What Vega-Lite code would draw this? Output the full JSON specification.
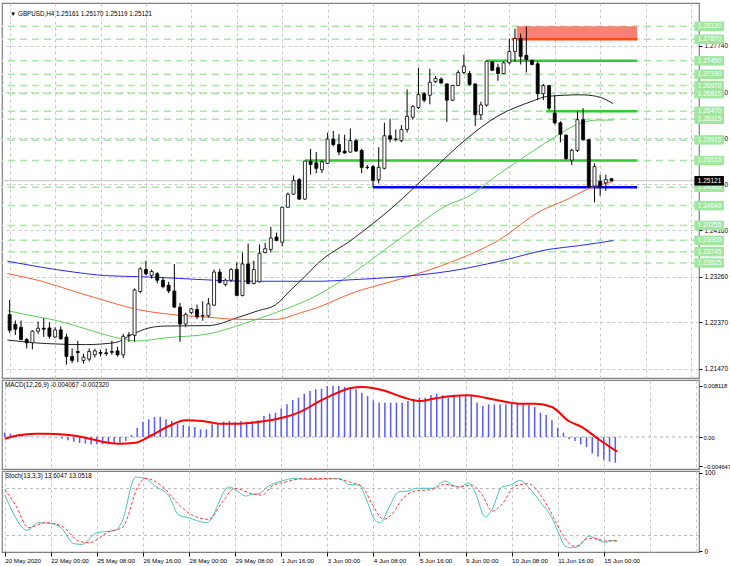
{
  "$schema": "https://vega.github.io/schema/vega-lite/v6.json",
  "background": "white",
  "padding": {"left": 0, "top": 2, "right": 0, "bottom": 0},
  "bounds": "flush",
  "spacing": 2,
  "config": {
    "font": "Liberation Sans",
    "view": {"stroke": "#808080", "strokeWidth": 1.2},
    "axis": {"title": null, "domain": false, "labelFont": "Liberation Sans", "labelFontSize": 6.5, "labelColor": "#000000", "tickColor": "#000000", "tickSize": 3, "labelPadding": 2, "labelOverlap": false, "gridColor": "#c8c8c8", "gridDash": [3, 3], "gridWidth": 1}
  },
  "datasets": {
    "bars": [
      {"i":0,"o":1.22523,"h":1.22806,"l":1.22164,"c":1.22220,"m":0.00069},
      {"i":1,"o":1.22334,"h":1.22409,"l":1.22126,"c":1.22239,"m":0.00053},
      {"i":2,"o":1.22277,"h":1.22409,"l":1.22031,"c":1.22037,"m":0.00032},
      {"i":3,"o":1.22037,"h":1.22069,"l":1.21867,"c":1.21975,"m":0.00016},
      {"i":4,"o":1.21975,"h":1.22220,"l":1.21848,"c":1.22201,"m":0.0001},
      {"i":5,"o":1.22201,"h":1.22390,"l":1.22150,"c":1.22258,"m":0.00005},
      {"i":6,"o":1.22258,"h":1.22453,"l":1.22088,"c":1.22239,"m":0.00003},
      {"i":7,"o":1.22264,"h":1.22371,"l":1.22056,"c":1.22101,"m":0.00001},
      {"i":8,"o":1.22088,"h":1.22277,"l":1.22069,"c":1.22226,"m":0},
      {"i":9,"o":1.22226,"h":1.22296,"l":1.22031,"c":1.22056,"m":-0.00005},
      {"i":10,"o":1.22088,"h":1.22150,"l":1.21553,"c":1.21710,"m":-0.00026},
      {"i":11,"o":1.21710,"h":1.21867,"l":1.21583,"c":1.21634,"m":-0.00053},
      {"i":12,"o":1.21805,"h":1.22012,"l":1.21597,"c":1.21786,"m":-0.00074},
      {"i":13,"o":1.21634,"h":1.21761,"l":1.21572,"c":1.21697,"m":-0.00095},
      {"i":14,"o":1.21659,"h":1.21867,"l":1.21616,"c":1.21805,"m":-0.00105},
      {"i":15,"o":1.21742,"h":1.21861,"l":1.21691,"c":1.21818,"m":-0.00116},
      {"i":16,"o":1.21786,"h":1.21842,"l":1.21710,"c":1.21767,"m":-0.00116},
      {"i":17,"o":1.21780,"h":1.21867,"l":1.21723,"c":1.21767,"m":-0.00116},
      {"i":18,"o":1.21805,"h":1.22012,"l":1.21742,"c":1.21791,"m":-0.00116},
      {"i":19,"o":1.21818,"h":1.21899,"l":1.21710,"c":1.21742,"m":-0.00105},
      {"i":20,"o":1.21742,"h":1.22150,"l":1.21678,"c":1.22101,"m":-0.0009},
      {"i":21,"o":1.22120,"h":1.22183,"l":1.21994,"c":1.22126,"m":-0.00063},
      {"i":22,"o":1.22120,"h":1.23033,"l":1.21994,"c":1.23001,"m":0.00032},
      {"i":23,"o":1.22971,"h":1.23443,"l":1.22939,"c":1.23411,"m":0.00148},
      {"i":24,"o":1.23398,"h":1.23568,"l":1.23284,"c":1.23317,"m":0.00243},
      {"i":25,"o":1.23284,"h":1.23398,"l":1.23222,"c":1.23360,"m":0.0028},
      {"i":26,"o":1.23317,"h":1.23349,"l":1.23128,"c":1.23190,"m":0.00316},
      {"i":27,"o":1.23190,"h":1.23254,"l":1.23033,"c":1.23065,"m":0.00322},
      {"i":28,"o":1.23095,"h":1.23160,"l":1.22939,"c":1.22982,"m":0.0028},
      {"i":29,"o":1.22982,"h":1.23506,"l":1.22655,"c":1.22668,"m":0.00253},
      {"i":30,"o":1.22668,"h":1.22750,"l":1.21994,"c":1.22339,"m":0.00211},
      {"i":31,"o":1.22339,"h":1.22561,"l":1.22277,"c":1.22528,"m":0.0019},
      {"i":32,"o":1.22561,"h":1.22655,"l":1.22528,"c":1.22636,"m":0.00174},
      {"i":33,"o":1.22623,"h":1.22717,"l":1.22434,"c":1.22479,"m":0.00158},
      {"i":34,"o":1.22504,"h":1.22782,"l":1.22404,"c":1.22498,"m":0.00121},
      {"i":35,"o":1.22498,"h":1.22844,"l":1.22466,"c":1.22731,"m":0.00121},
      {"i":36,"o":1.22706,"h":1.23398,"l":1.22687,"c":1.23349,"m":0.002},
      {"i":37,"o":1.23349,"h":1.23411,"l":1.23128,"c":1.23146,"m":0.002},
      {"i":38,"o":1.23109,"h":1.23222,"l":1.23071,"c":1.23190,"m":0.00243},
      {"i":39,"o":1.23190,"h":1.23424,"l":1.23160,"c":1.23398,"m":0.00253},
      {"i":40,"o":1.23398,"h":1.23538,"l":1.22876,"c":1.22895,"m":0.00243},
      {"i":41,"o":1.22895,"h":1.23727,"l":1.22876,"c":1.23506,"m":0.00253},
      {"i":42,"o":1.23506,"h":1.23902,"l":1.23109,"c":1.23128,"m":0.00243},
      {"i":43,"o":1.23128,"h":1.23568,"l":1.23109,"c":1.23398,"m":0.00253},
      {"i":44,"o":1.23160,"h":1.23884,"l":1.23146,"c":1.23713,"m":0.00264},
      {"i":45,"o":1.23727,"h":1.23916,"l":1.23713,"c":1.23802,"m":0.00332},
      {"i":46,"o":1.23789,"h":1.24229,"l":1.23727,"c":1.24010,"m":0.00369},
      {"i":47,"o":1.24029,"h":1.24116,"l":1.23946,"c":1.23965,"m":0.00385},
      {"i":48,"o":1.23927,"h":1.24621,"l":1.23851,"c":1.24607,"m":0.00453},
      {"i":49,"o":1.24607,"h":1.24891,"l":1.24596,"c":1.24861,"m":0.00517},
      {"i":50,"o":1.24861,"h":1.25225,"l":1.24847,"c":1.25125,"m":0.00585},
      {"i":51,"o":1.25144,"h":1.25174,"l":1.24747,"c":1.24766,"m":0.00622},
      {"i":52,"o":1.24766,"h":1.25510,"l":1.24747,"c":1.25503,"m":0.00686},
      {"i":53,"o":1.25503,"h":1.25741,"l":1.25239,"c":1.25439,"m":0.00728},
      {"i":54,"o":1.25471,"h":1.25679,"l":1.25269,"c":1.25363,"m":0.00754},
      {"i":55,"o":1.25333,"h":1.25522,"l":1.25269,"c":1.25490,"m":0.00765},
      {"i":56,"o":1.25458,"h":1.26057,"l":1.25447,"c":1.25930,"m":0.00807},
      {"i":57,"o":1.25930,"h":1.26089,"l":1.25787,"c":1.25825,"m":0.008118},
      {"i":58,"o":1.25825,"h":1.26025,"l":1.25617,"c":1.25679,"m":0.00807},
      {"i":59,"o":1.25698,"h":1.26014,"l":1.25647,"c":1.25660,"m":0.00796},
      {"i":60,"o":1.25679,"h":1.26138,"l":1.25660,"c":1.25900,"m":0.0078},
      {"i":61,"o":1.25900,"h":1.25930,"l":1.25679,"c":1.25698,"m":0.00754},
      {"i":62,"o":1.25711,"h":1.25741,"l":1.25269,"c":1.25382,"m":0.00701},
      {"i":63,"o":1.25382,"h":1.25428,"l":1.25345,"c":1.25377,"m":0.00649},
      {"i":64,"o":1.25396,"h":1.25428,"l":1.24995,"c":1.25131,"m":0.0058},
      {"i":65,"o":1.25144,"h":1.25774,"l":1.25069,"c":1.25382,"m":0.00543},
      {"i":66,"o":1.25363,"h":1.26246,"l":1.25345,"c":1.25995,"m":0.00543},
      {"i":67,"o":1.25995,"h":1.26327,"l":1.25868,"c":1.25930,"m":0.00543},
      {"i":68,"o":1.25930,"h":1.26119,"l":1.25887,"c":1.25925,"m":0.00543},
      {"i":69,"o":1.25900,"h":1.26203,"l":1.25868,"c":1.26119,"m":0.00543},
      {"i":70,"o":1.26119,"h":1.26894,"l":1.26057,"c":1.26373,"m":0.0057},
      {"i":71,"o":1.26354,"h":1.26592,"l":1.26308,"c":1.26562,"m":0.00606},
      {"i":72,"o":1.26543,"h":1.27318,"l":1.26516,"c":1.26794,"m":0.00622},
      {"i":73,"o":1.26813,"h":1.26845,"l":1.26643,"c":1.26686,"m":0.00622},
      {"i":74,"o":1.26781,"h":1.27299,"l":1.26605,"c":1.27034,"m":0.00664},
      {"i":75,"o":1.27046,"h":1.27153,"l":1.27021,"c":1.27110,"m":0.00686},
      {"i":76,"o":1.27097,"h":1.27129,"l":1.27002,"c":1.27021,"m":0.00664},
      {"i":77,"o":1.27002,"h":1.27010,"l":1.26265,"c":1.26686,"m":0.00622},
      {"i":78,"o":1.26686,"h":1.26983,"l":1.26668,"c":1.26970,"m":0.00664},
      {"i":79,"o":1.26970,"h":1.27267,"l":1.26964,"c":1.27223,"m":0.00664},
      {"i":80,"o":1.27223,"h":1.27569,"l":1.27191,"c":1.27348,"m":0.00664},
      {"i":81,"o":1.27204,"h":1.27253,"l":1.26970,"c":1.26989,"m":0.00649},
      {"i":82,"o":1.27002,"h":1.27010,"l":1.26184,"c":1.26403,"m":0.00543},
      {"i":83,"o":1.26403,"h":1.26656,"l":1.26308,"c":1.26592,"m":0.0049},
      {"i":84,"o":1.26592,"h":1.27456,"l":1.26562,"c":1.27442,"m":0.00517},
      {"i":85,"o":1.27431,"h":1.27442,"l":1.27253,"c":1.27267,"m":0.00517},
      {"i":86,"o":1.27318,"h":1.27393,"l":1.27064,"c":1.27204,"m":0.00517},
      {"i":87,"o":1.27204,"h":1.27442,"l":1.27191,"c":1.27412,"m":0.00517},
      {"i":88,"o":1.27412,"h":1.27885,"l":1.27380,"c":1.27631,"m":0.00543},
      {"i":89,"o":1.27631,"h":1.28074,"l":1.27442,"c":1.27885,"m":0.00527},
      {"i":90,"o":1.27885,"h":1.27979,"l":1.27380,"c":1.27537,"m":0.00527},
      {"i":91,"o":1.27556,"h":1.28115,"l":1.27223,"c":1.27475,"m":0.00517},
      {"i":92,"o":1.27456,"h":1.27475,"l":1.27361,"c":1.27380,"m":0.00475},
      {"i":93,"o":1.27393,"h":1.27442,"l":1.26686,"c":1.26813,"m":0.00385},
      {"i":94,"o":1.26813,"h":1.27002,"l":1.26686,"c":1.26970,"m":0.00348},
      {"i":95,"o":1.26970,"h":1.26980,"l":1.26497,"c":1.26530,"m":0.00264},
      {"i":96,"o":1.26435,"h":1.26781,"l":1.26214,"c":1.26246,"m":0.00148},
      {"i":97,"o":1.26246,"h":1.26278,"l":1.25868,"c":1.26025,"m":0.00069},
      {"i":98,"o":1.26006,"h":1.26025,"l":1.25522,"c":1.25552,"m":-0.00037},
      {"i":99,"o":1.25522,"h":1.25741,"l":1.25428,"c":1.25711,"m":-0.00063},
      {"i":100,"o":1.25711,"h":1.26467,"l":1.25679,"c":1.26308,"m":-0.00116},
      {"i":101,"o":1.26308,"h":1.26530,"l":1.25900,"c":1.25919,"m":-0.0016},
      {"i":102,"o":1.25919,"h":1.25930,"l":1.24985,"c":1.24999,"m":-0.0026},
      {"i":103,"o":1.25018,"h":1.25458,"l":1.24702,"c":1.25396,"m":-0.0031},
      {"i":104,"o":1.25112,"h":1.25239,"l":1.24829,"c":1.25018,"m":-0.0036},
      {"i":105,"o":1.25080,"h":1.25239,"l":1.24923,"c":1.25144,"m":-0.0039},
      {"i":106,"o":1.25161,"h":1.25170,"l":1.25119,"c":1.25121,"m":-0.004067}
    ],
    "ma": [
      {"s":"black","i":-0.4,"v":1.2203},{"s":"black","i":6.5,"v":1.2196},{"s":"black","i":13.4,"v":1.2194},{"s":"black","i":18.6,"v":1.2198},{"s":"black","i":21.6,"v":1.2214},{"s":"black","i":24.4,"v":1.2226},{"s":"black","i":27.3,"v":1.2230},{"s":"black","i":35.1,"v":1.2231},{"s":"black","i":40.3,"v":1.2247},{"s":"black","i":43.8,"v":1.2260},{"s":"black","i":46.8,"v":1.2271},{"s":"black","i":49.5,"v":1.2300},{"s":"black","i":52.0,"v":1.2326},{"s":"black","i":54.2,"v":1.2351},{"s":"black","i":60.3,"v":1.2398},{"s":"black","i":67.8,"v":1.2464},{"s":"black","i":74.2,"v":1.2530},{"s":"black","i":80.3,"v":1.2592},{"s":"black","i":86.0,"v":1.2638},{"s":"black","i":91.9,"v":1.2666},{"s":"black","i":94.7,"v":1.2676},{"s":"black","i":100.6,"v":1.2679},{"s":"black","i":103.4,"v":1.2676},{"s":"black","i":106.3,"v":1.2662},
      {"s":"green","i":-0.4,"v":1.2260},{"s":"green","i":5.3,"v":1.2247},{"s":"green","i":8.2,"v":1.2241},{"s":"green","i":11.2,"v":1.2232},{"s":"green","i":16.9,"v":1.2213},{"s":"green","i":19.8,"v":1.2205},{"s":"green","i":22.6,"v":1.2201},{"s":"green","i":27.3,"v":1.2207},{"s":"green","i":35.1,"v":1.2215},{"s":"green","i":40.8,"v":1.2233},{"s":"green","i":46.8,"v":1.2256},{"s":"green","i":51.3,"v":1.2275},{"s":"green","i":54.2,"v":1.2290},{"s":"green","i":60.3,"v":1.2332},{"s":"green","i":69.0,"v":1.2402},{"s":"green","i":77.7,"v":1.2468},{"s":"green","i":80.3,"v":1.2479},{"s":"green","i":86.0,"v":1.2524},{"s":"green","i":91.9,"v":1.2568},{"s":"green","i":96.4,"v":1.2600},{"s":"green","i":99.4,"v":1.2619},{"s":"green","i":103.4,"v":1.2630},{"s":"green","i":106.3,"v":1.2630},
      {"s":"red","i":-0.4,"v":1.2332},{"s":"red","i":5.3,"v":1.2318},{"s":"red","i":11.2,"v":1.2298},{"s":"red","i":16.9,"v":1.2279},{"s":"red","i":22.6,"v":1.2262},{"s":"red","i":27.3,"v":1.2254},{"s":"red","i":35.1,"v":1.2247},{"s":"red","i":40.8,"v":1.2243},{"s":"red","i":46.8,"v":1.2243},{"s":"red","i":51.3,"v":1.2256},{"s":"red","i":54.2,"v":1.2266},{"s":"red","i":60.3,"v":1.2294},{"s":"red","i":69.0,"v":1.2322},{"s":"red","i":77.7,"v":1.2354},{"s":"red","i":86.3,"v":1.2398},{"s":"red","i":93.6,"v":1.2454},{"s":"red","i":97.6,"v":1.2473},{"s":"red","i":102.3,"v":1.2498},{"s":"red","i":106.3,"v":1.2511},
      {"s":"blue","i":-0.4,"v":1.2356},{"s":"blue","i":11.2,"v":1.2335},{"s":"blue","i":16.9,"v":1.2328},{"s":"blue","i":22.6,"v":1.2326},{"s":"blue","i":27.3,"v":1.2324},{"s":"blue","i":38.1,"v":1.2318},{"s":"blue","i":43.8,"v":1.2317},{"s":"blue","i":49.5,"v":1.2317},{"s":"blue","i":54.2,"v":1.2317},{"s":"blue","i":60.3,"v":1.2320},{"s":"blue","i":69.0,"v":1.2326},{"s":"blue","i":77.7,"v":1.2337},{"s":"blue","i":86.3,"v":1.2356},{"s":"blue","i":95.0,"v":1.2379},{"s":"blue","i":100.2,"v":1.2386},{"s":"blue","i":106.3,"v":1.2396}
    ],
    "levels": [
      {"p":1.28120},{"p":1.27870},{"p":1.27450},{"p":1.27190},{"p":1.26970},{"p":1.26815},{"p":1.26470},{"p":1.26315},
      {"p":1.25915},{"p":1.25515},{"p":1.24995},{"p":1.24640},{"p":1.24255},{"p":1.23965},{"p":1.23745},{"p":1.23525}
    ],
    "segs": [
      {"p":1.27870,"from":88.4,"to":110.5,"k":"zone"},
      {"p":1.27450,"from":84,"to":110.5,"k":"res"},
      {"p":1.26470,"from":94.5,"to":110.5,"k":"res"},
      {"p":1.25515,"from":52,"to":110.5,"k":"res"},
      {"p":1.24995,"from":64,"to":110.5,"k":"sup"}
    ],
    "zone": [{"lo":1.27870,"hi":1.28120,"from":89.3,"to":110.5}],
    "last": [{"p":1.25121}],
    "sig": [
      {"i":0,"v":-0.00027},{"i":2.4,"v":0.00027},{"i":5.3,"v":0.00053},{"i":7.0,"v":0.00053},{"i":11.1,"v":0.00032},{"i":14.0,"v":-0.0001},{"i":16.9,"v":-0.00074},{"i":19.8,"v":-0.00105},{"i":22.7,"v":-0.0009},{"i":25.6,"v":0.00032},{"i":28.5,"v":0.00174},{"i":31.4,"v":0.00264},{"i":34.3,"v":0.00253},{"i":37.2,"v":0.00211},{"i":40.0,"v":0.00211},{"i":42.9,"v":0.00227},{"i":48.7,"v":0.00316},{"i":51.6,"v":0.00411},{"i":54.5,"v":0.00559},{"i":57.4,"v":0.00686},{"i":60.3,"v":0.0078},{"i":62.0,"v":0.00791},{"i":66.1,"v":0.00728},{"i":69.0,"v":0.00633},{"i":71.9,"v":0.0057},{"i":74.8,"v":0.00612},{"i":77.7,"v":0.00649},{"i":80.6,"v":0.0066},{"i":83.4,"v":0.00622},{"i":86.3,"v":0.0057},{"i":89.2,"v":0.00527},{"i":92.1,"v":0.00527},{"i":95.0,"v":0.00475},{"i":97.9,"v":0.00253},{"i":100.2,"v":0.00158},{"i":103.1,"v":-0.00036},{"i":106.3,"v":-0.00232}
    ],
    "stlev": [{"v":80},{"v":20}],
    "stoch": [
      {"s":"main","i":0,"v":72.6},{"s":"main","i":1.3,"v":51.3},{"s":"main","i":3.9,"v":26.7},{"s":"main","i":5.9,"v":36.4},{"s":"main","i":8.2,"v":35.1},{"s":"main","i":9.9,"v":29.2},{"s":"main","i":12.0,"v":9.6},{"s":"main","i":13.4,"v":8.8},{"s":"main","i":16.0,"v":23.6},{"s":"main","i":19.2,"v":26.7},{"s":"main","i":20.4,"v":38.6},{"s":"main","i":22.7,"v":94.8},{"s":"main","i":24.4,"v":93.1},{"s":"main","i":26.1,"v":83.2},{"s":"main","i":28.5,"v":70.5},{"s":"main","i":30.2,"v":46.2},{"s":"main","i":31.9,"v":42.8},{"s":"main","i":35.1,"v":36.4},{"s":"main","i":38.9,"v":82.0},{"s":"main","i":40.0,"v":79.0},{"s":"main","i":41.8,"v":70.5},{"s":"main","i":42.9,"v":72.6},{"s":"main","i":44.1,"v":73.4},{"s":"main","i":45.8,"v":83.2},{"s":"main","i":48.1,"v":89.6},{"s":"main","i":50.2,"v":93.1},{"s":"main","i":52.2,"v":91.8},{"s":"main","i":54.5,"v":91.8},{"s":"main","i":58.0,"v":93.1},{"s":"main","i":59.7,"v":85.4},{"s":"main","i":61.5,"v":84.5},{"s":"main","i":62.9,"v":64.1},{"s":"main","i":64.3,"v":39.5},{"s":"main","i":65.2,"v":36.4},{"s":"main","i":66.7,"v":55.6},{"s":"main","i":68.4,"v":76.0},{"s":"main","i":70.1,"v":76.9},{"s":"main","i":71.3,"v":80.4},{"s":"main","i":74.2,"v":80.4},{"s":"main","i":76.4,"v":89.6},{"s":"main","i":77.7,"v":84.5},{"s":"main","i":79.1,"v":82.0},{"s":"main","i":80.4,"v":87.5},{"s":"main","i":81.7,"v":74.7},{"s":"main","i":83.4,"v":43.7},{"s":"main","i":84.6,"v":53.5},{"s":"main","i":86.3,"v":82.0},{"s":"main","i":87.8,"v":84.5},{"s":"main","i":89.4,"v":90.5},{"s":"main","i":91.0,"v":81.1},{"s":"main","i":93.3,"v":59.9},{"s":"main","i":95.0,"v":42.8},{"s":"main","i":96.0,"v":26.0},{"s":"main","i":97.3,"v":6.6},{"s":"main","i":98.2,"v":4.5},{"s":"main","i":99.4,"v":5.4},{"s":"main","i":100.5,"v":13.0},{"s":"main","i":101.4,"v":19.4},{"s":"main","i":102.3,"v":17.2},{"s":"main","i":103.4,"v":13.0},{"s":"main","i":104.3,"v":11.4},{"s":"main","i":105.1,"v":13.9},{"s":"main","i":106.3,"v":13.6},
      {"s":"signal","i":0,"v":79.0},{"s":"signal","i":1.8,"v":59.9},{"s":"signal","i":4.2,"v":30.0},{"s":"signal","i":7.0,"v":36.4},{"s":"signal","i":9.9,"v":32.2},{"s":"signal","i":12.8,"v":13.0},{"s":"signal","i":14.6,"v":10.9},{"s":"signal","i":18.1,"v":24.9},{"s":"signal","i":20.4,"v":30.0},{"s":"signal","i":23.3,"v":85.4},{"s":"signal","i":24.4,"v":93.1},{"s":"signal","i":27.3,"v":83.2},{"s":"signal","i":30.2,"v":59.9},{"s":"signal","i":32.5,"v":46.2},{"s":"signal","i":35.4,"v":40.7},{"s":"signal","i":37.7,"v":61.9},{"s":"signal","i":40.0,"v":80.4},{"s":"signal","i":42.9,"v":73.4},{"s":"signal","i":44.7,"v":71.7},{"s":"signal","i":46.4,"v":83.2},{"s":"signal","i":48.7,"v":88.4},{"s":"signal","i":52.2,"v":93.1},{"s":"signal","i":57.4,"v":92.5},{"s":"signal","i":60.3,"v":87.5},{"s":"signal","i":62.0,"v":83.2},{"s":"signal","i":63.8,"v":59.9},{"s":"signal","i":65.8,"v":40.7},{"s":"signal","i":67.2,"v":47.1},{"s":"signal","i":69.0,"v":66.3},{"s":"signal","i":71.3,"v":76.9},{"s":"signal","i":74.2,"v":79.0},{"s":"signal","i":76.5,"v":85.4},{"s":"signal","i":78.8,"v":82.0},{"s":"signal","i":81.1,"v":84.5},{"s":"signal","i":82.9,"v":71.7},{"s":"signal","i":84.6,"v":51.3},{"s":"signal","i":86.3,"v":59.9},{"s":"signal","i":88.6,"v":83.2},{"s":"signal","i":91.0,"v":86.2},{"s":"signal","i":92.1,"v":80.4},{"s":"signal","i":93.9,"v":61.9},{"s":"signal","i":95.6,"v":38.6},{"s":"signal","i":96.8,"v":21.6},{"s":"signal","i":98.8,"v":6.6},{"s":"signal","i":99.7,"v":7.9},{"s":"signal","i":100.8,"v":15.2},{"s":"signal","i":102.5,"v":16.5},{"s":"signal","i":104.3,"v":13.0},{"s":"signal","i":106.3,"v":13.05}
    ]
  },
  "vconcat": [
    {
      "width": 697,
      "height": 375,
      "layer": [
        {
          "data": {"name": "levels"},
          "mark": {"type": "rule", "stroke": "#a6e8a6", "strokeWidth": 1.5, "strokeDash": [7, 5]},
          "encoding": {
            "y": {"field": "p", "type": "quantitative", "title": null,
              "scale": {"domain": [1.21389, 1.28476], "nice": false, "zero": false},
              "axis": {"orient": "right", "grid": true, "format": ".5f",
                "values": [1.2147, 1.2192, 1.2237, 1.2281, 1.2326, 1.2371, 1.2416, 1.2460, 1.2505, 1.2550, 1.2595, 1.2640, 1.2684, 1.2729, 1.2774, 1.2819]}}
          }
        },
        {
          "data": {"name": "last"},
          "mark": {"type": "rule", "stroke": "#c0c0c0", "strokeWidth": 1},
          "encoding": {"y": {"field": "p", "type": "quantitative", "title": null}}
        },
        {
          "data": {"name": "zone"},
          "mark": {"type": "rect", "fill": "#fa8072"},
          "encoding": {
            "x": {"field": "from", "type": "quantitative", "title": null},
            "x2": {"field": "to"},
            "y": {"field": "lo", "type": "quantitative", "title": null},
            "y2": {"field": "hi"}
          }
        },
        {
          "data": {"name": "segs"},
          "mark": {"type": "rule", "strokeWidth": 2.5},
          "encoding": {
            "x": {"field": "from", "type": "quantitative", "title": null},
            "x2": {"field": "to"},
            "y": {"field": "p", "type": "quantitative", "title": null},
            "stroke": {"field": "k", "type": "nominal", "legend": null,
              "scale": {"domain": ["zone", "res", "sup"], "range": ["#ff4a1a", "#2fcc2f", "#0000ff"]}}
          }
        },
        {
          "data": {"name": "ma"},
          "mark": {"type": "line", "strokeWidth": 1, "interpolate": "monotone"},
          "encoding": {
            "x": {"field": "i", "type": "quantitative", "title": null},
            "y": {"field": "v", "type": "quantitative", "title": null},
            "color": {"field": "s", "type": "nominal", "legend": null,
              "scale": {"domain": ["black", "green", "red", "blue"], "range": ["#222222", "#5ccf5c", "#ff6035", "#2828f0"]}}
          }
        },
        {
          "data": {"name": "bars"},
          "mark": {"type": "rule", "stroke": "#000000", "strokeWidth": 1},
          "encoding": {
            "x": {"field": "i", "type": "quantitative", "title": null,
              "scale": {"domain": [-0.47, 120.53], "nice": false, "zero": false},
              "axis": {"grid": true, "labels": false, "ticks": false,
                "values": [0, 4, 8, 12, 16, 20, 24, 28, 32, 36, 40, 44, 48, 52, 56, 60, 64, 68, 72, 76, 80, 84, 88, 92, 96, 100, 104, 108, 112, 116, 120]}},
            "y": {"field": "l", "type": "quantitative", "title": null},
            "y2": {"field": "h"}
          }
        },
        {
          "data": {"name": "bars"},
          "mark": {"type": "bar", "size": 3, "stroke": "#000000", "strokeWidth": 0.8},
          "encoding": {
            "x": {"field": "i", "type": "quantitative", "title": null},
            "y": {"field": "o", "type": "quantitative", "title": null},
            "y2": {"field": "c"},
            "fill": {"condition": {"test": "datum.c >= datum.o", "value": "#ffffff"}, "value": "#000000"}
          }
        },
        {
          "data": {"name": "levels"},
          "mark": {"type": "bar", "size": 9.5, "fill": "#9fe69f", "orient": "horizontal"},
          "encoding": {
            "x": {"datum": 120.6},
            "x2": {"datum": 125.8},
            "y": {"field": "p", "type": "quantitative", "title": null}
          }
        },
        {
          "data": {"name": "levels"},
          "mark": {"type": "text", "align": "left", "baseline": "middle", "fontSize": 6.5, "color": "#ffffff"},
          "encoding": {
            "x": {"datum": 121.2},
            "y": {"field": "p", "type": "quantitative", "title": null},
            "text": {"field": "p", "type": "quantitative", "format": ".5f"}
          }
        },
        {
          "data": {"name": "last"},
          "mark": {"type": "bar", "size": 9.5, "fill": "#000000", "orient": "horizontal"},
          "encoding": {
            "x": {"datum": 120.6},
            "x2": {"datum": 125.8},
            "y": {"field": "p", "type": "quantitative", "title": null}
          }
        },
        {
          "data": {"name": "last"},
          "mark": {"type": "text", "align": "left", "baseline": "middle", "fontSize": 6.5, "color": "#ffffff"},
          "encoding": {
            "x": {"datum": 121.2},
            "y": {"field": "p", "type": "quantitative", "title": null},
            "text": {"field": "p", "type": "quantitative", "format": ".5f"}
          }
        },
        {
          "data": {"name": "last"},
          "mark": {"type": "text", "align": "left", "baseline": "top", "fontSize": 6.3, "color": "#000000", "dx": 3, "dy": 3},
          "encoding": {
            "x": {"datum": -0.47},
            "y": {"datum": 1.28476},
            "text": {"value": "▼ GBPUSD,H4  1.25161 1.25170 1.25119 1.25121"}
          }
        }
      ]
    },
    {
      "width": 697,
      "height": 89,
      "layer": [
        {
          "data": {"name": "last"},
          "mark": {"type": "rule", "stroke": "#b0b0b0", "strokeWidth": 1, "strokeDash": [3, 3]},
          "encoding": {
            "y": {"datum": 0, "type": "quantitative", "title": null,
              "scale": {"domain": [-0.00506, 0.00902], "nice": false, "zero": false},
              "axis": {"orient": "right", "grid": false, "labelFontSize": 5.8, "labelPadding": 1, "values": [0.008118, 0, -0.004647],
                "labelExpr": "datum.value == 0 ? '0.00' : format(datum.value, '.6f')"}}
          }
        },
        {
          "data": {"name": "bars"},
          "mark": {"type": "rule", "stroke": "#5b5bf5", "strokeWidth": 1.5},
          "encoding": {
            "x": {"field": "i", "type": "quantitative", "title": null,
              "scale": {"domain": [-0.47, 120.53], "nice": false, "zero": false},
              "axis": {"grid": true, "labels": false, "ticks": false,
                "values": [0, 4, 8, 12, 16, 20, 24, 28, 32, 36, 40, 44, 48, 52, 56, 60, 64, 68, 72, 76, 80, 84, 88, 92, 96, 100, 104, 108, 112, 116, 120]}},
            "y": {"field": "m", "type": "quantitative", "title": null},
            "y2": {"datum": 0}
          }
        },
        {
          "data": {"name": "sig"},
          "mark": {"type": "line", "stroke": "#ff0000", "strokeWidth": 2, "interpolate": "monotone"},
          "encoding": {
            "x": {"field": "i", "type": "quantitative", "title": null},
            "y": {"field": "v", "type": "quantitative", "title": null}
          }
        },
        {
          "data": {"name": "last"},
          "mark": {"type": "text", "align": "left", "baseline": "top", "fontSize": 6.3, "color": "#000000", "dx": 3, "dy": 2},
          "encoding": {
            "x": {"datum": -0.47},
            "y": {"datum": 0.00902},
            "text": {"value": "MACD(12,26,9) -0.004067 -0.002320"}
          }
        }
      ]
    },
    {
      "width": 697,
      "height": 81,
      "layer": [
        {
          "data": {"name": "stlev"},
          "mark": {"type": "rule", "stroke": "#b8b8b8", "strokeWidth": 1, "strokeDash": [3, 3]},
          "encoding": {
            "y": {"field": "v", "type": "quantitative", "title": null,
              "scale": {"domain": [-1, 102.5], "nice": false, "zero": false},
              "axis": {"orient": "right", "grid": false, "values": [100, 80, 20, 0]}}
          }
        },
        {
          "data": {"name": "stoch"},
          "transform": [{"filter": "datum.s == 'main'"}],
          "mark": {"type": "line", "strokeWidth": 1, "stroke": "#4cc4bc", "interpolate": "monotone"},
          "encoding": {
            "x": {"field": "i", "type": "quantitative", "title": null,
              "scale": {"domain": [-0.47, 120.53], "nice": false, "zero": false},
              "axis": {"grid": true, "labelAlign": "left", "labelBaseline": "top", "labelFontSize": 6.2, "labelPadding": 1, "tickSize": 4, "labelFlush": false,
                "values": [0, 4, 8, 12, 16, 20, 24, 28, 32, 36, 40, 44, 48, 52, 56, 60, 64, 68, 72, 76, 80, 84, 88, 92, 96, 100, 104, 108, 112, 116, 120],
                "tickOpacity": {"condition": {"test": "datum.value % 8 != 0 || datum.value > 104", "value": 0}, "value": 1},
                "labelExpr": "datum.value % 8 == 0 && datum.value <= 104 ? ['20 May 2020','22 May 00:00','25 May 08:00','26 May 16:00','28 May 00:00','29 May 08:00','1 Jun 16:00','3 Jun 00:00','4 Jun 08:00','5 Jun 16:00','9 Jun 00:00','10 Jun 08:00','11 Jun 16:00','15 Jun 00:00'][datum.value / 8] : ''"}},
            "y": {"field": "v", "type": "quantitative", "title": null}
          }
        },
        {
          "data": {"name": "stoch"},
          "transform": [{"filter": "datum.s == 'signal'"}],
          "mark": {"type": "line", "strokeWidth": 1, "stroke": "#ff3b3b", "strokeDash": [3, 2], "interpolate": "monotone"},
          "encoding": {
            "x": {"field": "i", "type": "quantitative", "title": null},
            "y": {"field": "v", "type": "quantitative", "title": null}
          }
        },
        {
          "data": {"name": "last"},
          "mark": {"type": "text", "align": "left", "baseline": "top", "fontSize": 6.3, "color": "#000000", "dx": 3, "dy": 2},
          "encoding": {
            "x": {"datum": -0.47},
            "y": {"datum": 102.5},
            "text": {"value": "Stoch(13,3,3) 13.6047 13.0518"}
          }
        }
      ]
    }
  ]
}
